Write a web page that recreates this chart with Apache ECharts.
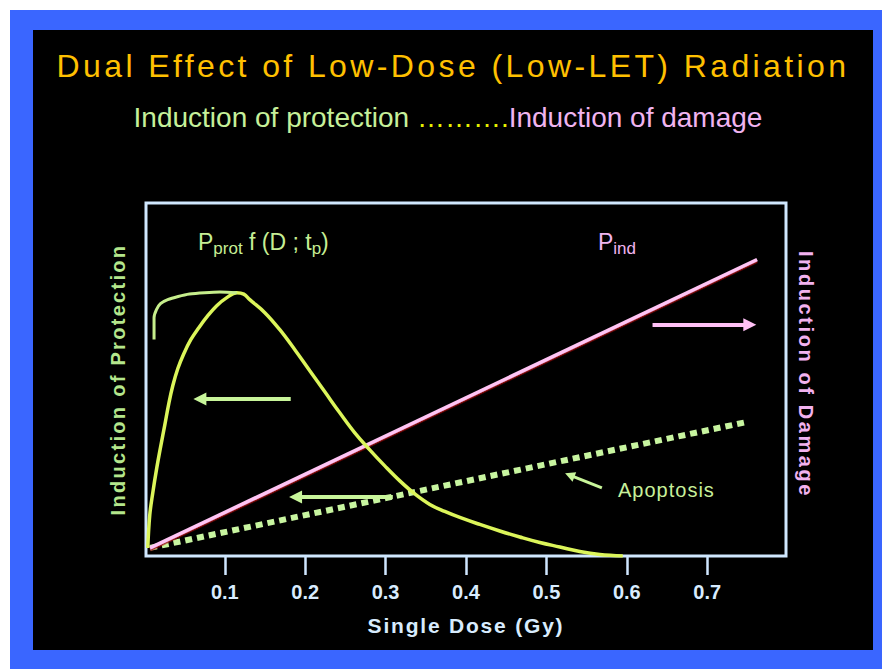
<!DOCTYPE html>
<html>
<head>
<meta charset="utf-8">
<script src="https://cdn.jsdelivr.net/npm/echarts@6/dist/echarts.min.js"></script>
<style>
html, body { margin: 0; padding: 0; background: #ffffff; }
#chart { width: 882px; height: 669px; }
#chart text[fill="#ffc000"] { letter-spacing: 3.4px; }
#chart text[fill="#b4e68c"] { letter-spacing: 2.3px; }
#chart text[fill="#f2b2ef"] { letter-spacing: 2.6px; }
#chart text[fill="#d8ecfe"] { letter-spacing: 1.8px; }
#chart text[fill="#c8f09b"] { letter-spacing: 1px; }
</style>
</head>
<body>
<div id="chart"></div>
<script>
// ---------- texts ----------
const TITLE = 'Dual Effect of Low-Dose (Low-LET) Radiation';
const SUB_PROTECT = 'Induction of protection ';
const SUB_DOTS = '……….';
const SUB_DAMAGE = 'Induction of damage';
const X_NAME = 'Single Dose (Gy)';
const Y_LEFT_NAME = 'Induction of Protection';
const Y_RIGHT_NAME = 'Induction of Damage';
const APOPTOSIS_LABEL = 'Apoptosis';

// ---------- axis ticks ----------
const X_TICKS = [0.1, 0.2, 0.3, 0.4, 0.5, 0.6, 0.7];

// ---------- series data [dose (Gy), relative level] ----------
const protectionCurve = [
  [0.0042, 0.0227], [0.0067, 0.1163], [0.0104, 0.1787], [0.0154, 0.2496], [0.0204, 0.3121],
  [0.0254, 0.3716], [0.0303, 0.4312], [0.0353, 0.4823], [0.0415, 0.5305], [0.0490, 0.5730],
  [0.0577, 0.6128], [0.0677, 0.6468], [0.0789, 0.6809], [0.0900, 0.7092], [0.1025, 0.7319],
  [0.1149, 0.7461], [0.1236, 0.7418], [0.1311, 0.7262], [0.1498, 0.6894], [0.1684, 0.6411],
  [0.1871, 0.5844], [0.2057, 0.5248], [0.2244, 0.4652], [0.2430, 0.4057], [0.2617, 0.3489],
  [0.2803, 0.3007], [0.2990, 0.2553], [0.3177, 0.2128], [0.3363, 0.1759], [0.3550, 0.1461],
  [0.3736, 0.1262], [0.3923, 0.1092], [0.4172, 0.0894], [0.4420, 0.0709], [0.4669, 0.0539],
  [0.4918, 0.0383], [0.5167, 0.0255], [0.5415, 0.0128], [0.5664, 0.0043], [0.5950, 0.0000]
];
const saturationCurve = [
  [0.012, 0.613], [0.012, 0.675], [0.015, 0.698], [0.020, 0.715], [0.029, 0.726],
  [0.042, 0.735], [0.056, 0.742], [0.075, 0.746], [0.094, 0.748], [0.115, 0.746]
];
const damageLine = [[0.007, 0.023], [0.762, 0.840]];
const apoptosisLine = [[0.007, 0.023], [0.400, 0.212], [0.750, 0.380]];

// ---------- annotation arrows [from, to] in data units ----------
const greenArrows = [
  [[0.182, 0.445], [0.069, 0.445]],
  [[0.309, 0.167], [0.188, 0.167]]
];
const pinkArrows = [
  [[0.632, 0.655], [0.753, 0.655]]
];
const pointerArrows = [
  [[0.569, 0.193], [0.529, 0.229]]
];

const FONT = "'Liberation Sans', Arial, Helvetica, sans-serif";

const chart = echarts.init(document.getElementById('chart'), null, { renderer: 'svg', width: 882, height: 669 });

const option = {
  backgroundColor: '#ffffff',
  animation: false,
  title: [
    {
      text: TITLE,
      left: 448, top: 45, textAlign: 'center',
      textStyle: { color: '#ffc000', fontSize: 32, fontWeight: 'normal', fontFamily: FONT }
    },
    {
      text: '{g|' + SUB_PROTECT + '}{y|' + SUB_DOTS + '}{p|' + SUB_DAMAGE + '}',
      left: 443, top: 98, textAlign: 'center',
      textStyle: {
        fontSize: 28, fontWeight: 'normal', fontFamily: FONT,
        rich: {
          g: { color: '#c6f09a', fontSize: 28, fontWeight: 'normal', fontFamily: FONT },
          y: { color: '#e6f000', fontSize: 28, fontWeight: 'normal', fontFamily: FONT },
          p: { color: '#f0b4f0', fontSize: 28, fontWeight: 'normal', fontFamily: FONT }
        }
      }
    }
  ],
  graphic: [
    { type: 'rect', z: -100, shape: { x: 10, y: 10, width: 872, height: 659 }, style: { fill: '#3a66ff' } },
    { type: 'rect', z: -99, shape: { x: 33, y: 30, width: 840, height: 620 }, style: { fill: '#000000' } },
    {
      type: 'text', x: 198, y: 227, z: 10,
      style: {
        text: '{P|P}{s|prot}{n| f (D ; t}{s|p}{n|)}',
        verticalAlign: 'top',
        rich: {
          P: { fill: '#c6ee94', fontSize: 23, fontFamily: FONT, lineHeight: 30, verticalAlign: 'middle' },
          n: { fill: '#c6ee94', fontSize: 23, fontFamily: FONT, lineHeight: 30, verticalAlign: 'middle' },
          s: { fill: '#c6ee94', fontSize: 17, fontFamily: FONT, lineHeight: 10, verticalAlign: 'bottom' }
        }
      }
    },
    {
      type: 'text', x: 598, y: 227, z: 10,
      style: {
        text: '{P|P}{s|ind}',
        verticalAlign: 'top',
        rich: {
          P: { fill: '#f0b4f0', fontSize: 23, fontFamily: FONT, lineHeight: 30, verticalAlign: 'middle' },
          s: { fill: '#f0b4f0', fontSize: 17, fontFamily: FONT, lineHeight: 10, verticalAlign: 'bottom' }
        }
      }
    },
    {
      type: 'text', x: 618, y: 480, z: 10,
      style: { text: APOPTOSIS_LABEL, fill: '#c8f09b', fontSize: 20, fontFamily: FONT, verticalAlign: 'top' }
    }
  ],
  grid: {
    left: 146, right: 96, top: 203, bottom: 113,
    show: true, borderColor: '#d0e8ff', borderWidth: 3, backgroundColor: 'transparent',
    outerBoundsMode: 'none'
  },
  xAxis: {
    type: 'value', min: 0.002, max: 0.798,
    name: X_NAME, nameLocation: 'middle', nameGap: 59,
    nameTextStyle: { color: '#d8ecfe', fontSize: 21, fontWeight: 'bold', fontFamily: FONT },
    axisLine: { show: false },
    splitLine: { show: false },
    axisTick: { show: true, customValues: X_TICKS, length: 19, lineStyle: { color: '#cfe6ff', width: 2.5 } },
    axisLabel: {
      customValues: X_TICKS, margin: 26,
      formatter: v => v.toFixed(1),
      color: '#d8ecff', fontSize: 20, fontWeight: 'bold', fontFamily: FONT
    }
  },
  yAxis: [
    {
      type: 'value', min: 0, max: 1, position: 'left',
      name: Y_LEFT_NAME, nameLocation: 'middle', nameRotate: 90, nameGap: 18,
      nameTextStyle: { color: '#b4e68c', fontSize: 20, fontWeight: 'bold', fontFamily: FONT },
      axisLine: { show: false }, axisTick: { show: false }, axisLabel: { show: false }, splitLine: { show: false }
    },
    {
      type: 'value', min: 0, max: 1, position: 'right',
      name: Y_RIGHT_NAME, nameLocation: 'middle', nameRotate: -90, nameGap: 10,
      nameTextStyle: { color: '#f2b2ef', fontSize: 20, fontWeight: 'bold', fontFamily: FONT, padding: [0, 10, 0, 0] },
      axisLine: { show: false }, axisTick: { show: false }, axisLabel: { show: false }, splitLine: { show: false }
    }
  ],
  series: [
    {
      name: 'Apoptosis', type: 'line', data: apoptosisLine, showSymbol: false, z: 3,
      lineStyle: { color: '#c8f5a0', width: 6, type: [7, 5], cap: 'butt' }
    },
    {
      name: 'Pind', type: 'line', yAxisIndex: 1, data: damageLine, showSymbol: false, z: 4,
      lineStyle: { color: '#ffc4f4', width: 3.5, shadowColor: '#a01010', shadowOffsetY: 1.5, shadowBlur: 0 }
    },
    {
      name: 'Protection', type: 'line', data: protectionCurve, showSymbol: false, smooth: 0.4, z: 5,
      lineStyle: { color: '#dcf55a', width: 3.5 }
    },
    {
      name: 'Saturation', type: 'line', data: saturationCurve, showSymbol: false, smooth: 0.3, z: 5,
      lineStyle: { color: '#c6ee8c', width: 3 }
    },
    {
      name: 'Green arrows', type: 'lines', coordinateSystem: 'cartesian2d', z: 6,
      symbol: ['none', 'triangle'], symbolSize: 13,
      lineStyle: { color: '#c8f59a', width: 4, opacity: 1, curveness: 0 },
      data: greenArrows.map(c => ({ coords: c }))
    },
    {
      name: 'Pink arrows', type: 'lines', coordinateSystem: 'cartesian2d', z: 6,
      symbol: ['none', 'triangle'], symbolSize: 13,
      lineStyle: { color: '#ffc0f5', width: 4, opacity: 1, curveness: 0 },
      data: pinkArrows.map(c => ({ coords: c }))
    },
    {
      name: 'Pointer', type: 'lines', coordinateSystem: 'cartesian2d', z: 6,
      symbol: ['none', 'triangle'], symbolSize: 10,
      lineStyle: { color: '#c8f59a', width: 3, opacity: 1, curveness: 0 },
      data: pointerArrows.map(c => ({ coords: c }))
    }
  ]
};
chart.setOption(option);
</script>
</body>
</html>
